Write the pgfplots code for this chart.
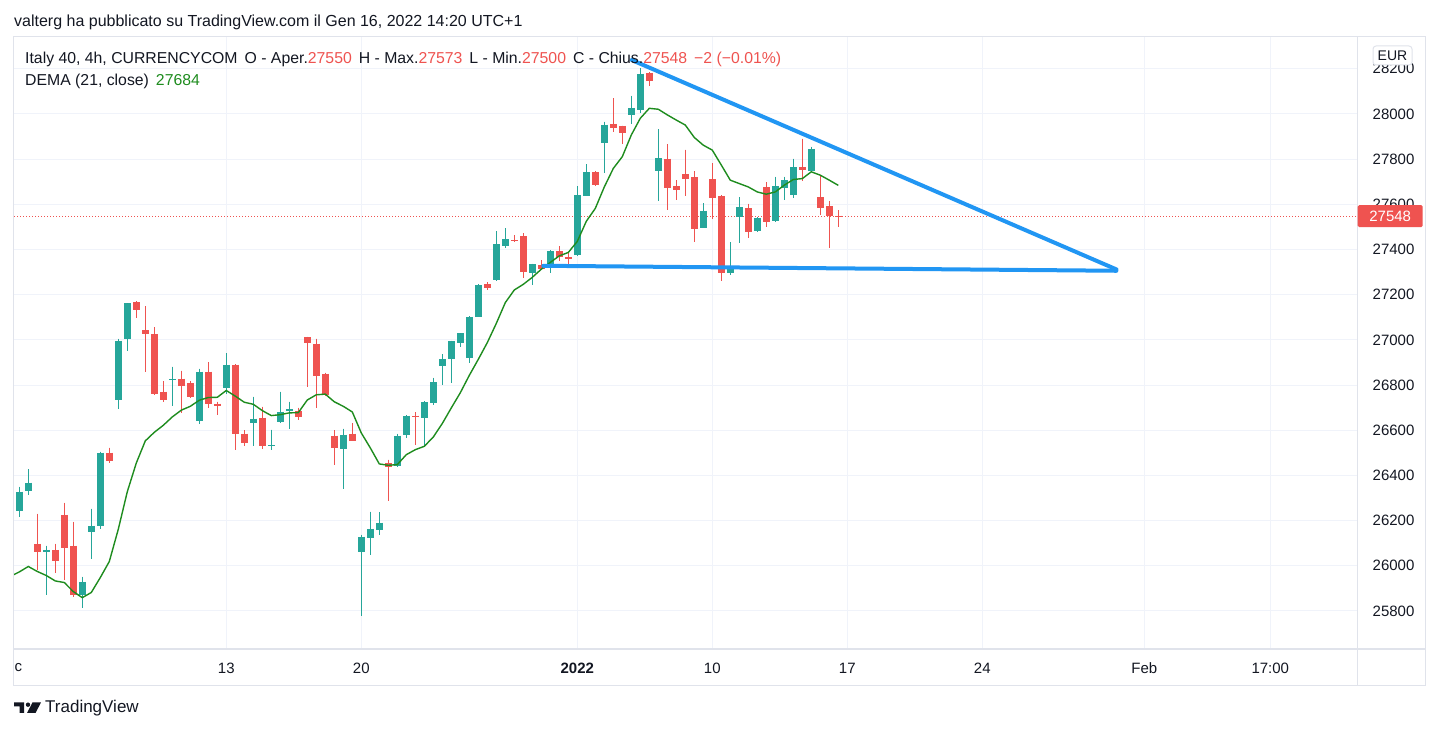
\documentclass[border=0pt]{standalone}
\usepackage{fontspec}
\setmainfont{Liberation Sans}
\usepackage{pgfplots}
\usepackage{pgfplotstable}
\pgfplotsset{compat=1.18}
\definecolor{tvgreen}{HTML}{26A69A}
\definecolor{tvred}{HTML}{EF5350}
\definecolor{demagreen}{HTML}{1E8C1E}
\definecolor{tvblue}{HTML}{2196F3}
\definecolor{gridc}{HTML}{F0F3FA}
\definecolor{borderc}{HTML}{E0E3EB}
\definecolor{textc}{HTML}{131722}

\pgfplotstableread{
i o h l c
0 26241 26349 26214 26328
1 26329 26428 26312 26368
3 26059 26089 25873 26071
7 25873 25951 25815 25929
8 26148 26253 26032 26177
9 26177 26505 26165 26501
11 26733 27005 26696 26997
12 27002 27162 26950 27162
17 26822 26882 26709 26826
20 26640 26873 26627 26860
23 26786 26940 26760 26891
26 26631 26749 26529 26652
28 26530 26603 26511 26534
29 26635 26771 26631 26683
30 26686 26727 26604 26692
36 26516 26607 26338 26581
38 26060 26137 25776 26129
39 26122 26240 26049 26165
40 26157 26236 26138 26191
42 26440 26584 26436 26576
43 26578 26667 26565 26665
45 26653 26729 26524 26724
46 26720 26832 26711 26812
47 26884 26936 26800 26914
48 26915 26996 26809 26993
49 26986 27030 26968 27029
50 26918 27104 26897 27102
51 27102 27246 27100 27242
53 27266 27482 27261 27424
54 27417 27495 27408 27446
57 27297 27337 27242 27335
59 27334 27397 27297 27393
62 27376 27680 27370 27640
63 27638 27778 27636 27743
65 27873 27966 27740 27953
68 27996 28080 27956 28027
69 28018 28203 28003 28179
71 27748 27933 27615 27805
76 27496 27605 27494 27572
79 27296 27432 27288 27321
80 27546 27632 27429 27587
82 27481 27542 27476 27540
84 27525 27722 27523 27680
85 27672 27722 27621 27707
86 27642 27802 27629 27765
88 27748 27854 27746 27846
}\greens

\pgfplotstableread{
i o h l c
2 26097 26230 25982 26059
4 26071 26097 25970 26023
5 26226 26279 25938 26081
6 26089 26195 25861 25873
10 26501 26523 26454 26462
13 27166 27170 27095 27132
14 27042 27148 26860 27024
15 27024 27055 26754 26762
16 26771 26816 26727 26736
18 26829 26864 26675 26798
19 26807 26816 26745 26749
21 26860 26900 26697 26715
22 26718 26727 26666 26706
24 26891 26893 26511 26582
25 26585 26599 26529 26542
27 26656 26705 26516 26529
31 26687 26700 26644 26658
32 27011 27013 26791 26986
33 26984 27006 26697 26842
34 26851 26855 26752 26755
35 26576 26599 26445 26520
37 26585 26630 26551 26551
41 26456 26470 26285 26436
44 26665 26680 26536 26659
52 27246 27255 27221 27230
55 27442 27464 27434 27437
56 27459 27473 27275 27301
58 27331 27353 27310 27314
60 27393 27415 27350 27368
61 27365 27384 27334 27359
64 27743 27746 27683 27686
66 27956 28069 27919 27939
67 27947 27948 27867 27917
70 28182 28184 28126 28148
72 27802 27867 27575 27673
73 27680 27707 27618 27664
74 27734 27842 27636 27713
75 27720 27746 27433 27490
77 27711 27781 27537 27629
78 27638 27640 27260 27296
81 27583 27602 27451 27478
83 27676 27698 27500 27522
87 27765 27891 27704 27753
89 27632 27732 27553 27584
90 27592 27614 27407 27549
91 27550 27573 27500 27548
}\reds

\pgfplotsset{
  candle/.style={only marks, mark=*, mark size=0pt, mark options={draw=none, fill=none}, forget plot,
    error bars/.cd, y dir=minus, y explicit, error mark=none},
}

\begin{document}
\begin{tikzpicture}[x=1pt,y=1pt]
\path[use as bounding box] (0,0) rectangle (1441,733);
\fill[white] (0,0) rectangle (1441,733);
\begin{axis}[
  at={(14pt,84pt)}, anchor=south west,
  scale only axis, width=1343.5pt, height=612pt,
  xmin=-0.589, xmax=148.69, ymin=25631.8, ymax=28340.8,
  axis line style={draw=none},
  xtick={23,38,62,77,92,107,125,139},
  xticklabels={13,20,\textbf{2022},10,17,24,Feb,17:00},
  ytick={25800,26000,...,28200},
  scaled y ticks=false,
  yticklabel pos=right,
  grid=major, major grid style={color=gridc, line width=1pt},
  major tick length=0pt,
  ticklabel style={font=\fontsize{15}{15}\selectfont, text=textc},
  xticklabel style={anchor=center, yshift=-19pt},
  yticklabel style={anchor=west, inner sep=0pt, xshift=15pt},
  /pgf/number format/fixed,
  /pgf/number format/precision=0,
  /pgf/number format/1000 sep={},
  /pgf/number format/assume math mode=true,
]
% last price line
\addplot[tvred, line width=1pt, dash pattern=on 1pt off 2pt, forget plot] coordinates {(-0.589,27548) (148.69,27548)};
% wicks
\addplot[candle, error bar style={line width=1.2pt, tvgreen}]
  table[x=i, y=h, y error minus expr={\thisrow{h}-\thisrow{l}}] {\greens};
\addplot[candle, error bar style={line width=1.2pt, tvred}]
  table[x=i, y=h, y error minus expr={\thisrow{h}-\thisrow{l}}] {\reds};
% bodies
\addplot[candle, error bar style={line width=7pt, tvgreen}]
  table[x=i, y=c, y error minus expr={max(\thisrow{c}-\thisrow{o},5)}] {\greens};
\addplot[candle, error bar style={line width=7pt, tvred}]
  table[x=i, y=o, y error minus expr={max(\thisrow{o}-\thisrow{c},5)}] {\reds};
% DEMA (21, close)
\addplot[demagreen, line width=1.4pt, forget plot] coordinates {
(-1,25953) (0,25973) (1,25997) (2,25975) (3,25957) (4,25933) (5,25926) (6,25886) (7,25859) (8,25882) (9,25948)
(10,26019) (11,26162) (12,26328) (13,26455) (14,26553) (15,26591) (16,26622) (17,26659) (18,26689) (19,26706)
(20,26733) (21,26745) (22,26746) (23,26776) (24,26751) (25,26724) (26,26715) (27,26687) (28,26665) (29,26669)
(30,26677) (31,26678) (32,26734) (33,26757) (34,26760) (35,26726) (36,26706) (37,26681) (38,26588) (39,26522)
(40,26451) (41,26445) (42,26448) (43,26492) (44,26514) (45,26529) (46,26570) (47,26630) (48,26699) (49,26766)
(50,26843) (51,26914) (52,26988) (53,27073) (54,27165) (55,27221) (56,27246) (57,27277) (58,27313) (59,27343)
(60,27372) (61,27387) (62,27436) (63,27525) (64,27582) (65,27677) (66,27759) (67,27811) (68,27907) (69,27981)
(70,28025) (71,28021) (72,27996) (73,27973) (74,27951) (75,27896) (76,27862) (77,27840) (78,27774) (79,27707)
(80,27692) (81,27677) (82,27655) (83,27645) (84,27655) (85,27685) (86,27710) (87,27714) (88,27744) (89,27729)
(90,27707) (91,27684)};
% trend lines
\addplot[tvblue, line width=4pt, line cap=round, forget plot] coordinates {(68.04,28239) (121.9,27312)};
\addplot[tvblue, line width=4pt, line cap=round, forget plot] coordinates {(58.22,27328) (121.9,27306)};
\coordinate (plabel) at (axis cs:148.69,27548);
\end{axis}
% frame
\draw[borderc, line width=1.5pt] (13.5,47.5) rectangle (1425.5,696.5);
\draw[borderc, line width=1.2pt] (1357.5,47.5) -- (1357.5,696.5);
\draw[borderc, line width=1.2pt] (13.5,84) -- (1425.5,84);
% price label
\node[fill=tvred, text=white, anchor=west, minimum width=65pt, minimum height=22pt, inner sep=0pt, rounded corners=1.5pt, font=\fontsize{15}{15}\selectfont] at (plabel) {27548};
% EUR box
\draw[borderc, fill=white, rounded corners=3pt, line width=1pt] (1373,668) rectangle (1412,687);
\node[text=textc, font=\fontsize{14}{14}\selectfont] at (1392.5,677.5) {EUR};
% Dec fragment
\node[anchor=west, inner sep=0pt, text=textc, font=\fontsize{15}{15}\selectfont] at (14.5,65) {c};
% texts
\node[anchor=west, inner sep=0pt, text=textc, font=\fontsize{16}{18}\selectfont] at (14,711) {valterg ha pubblicato su TradingView.com il Gen 16, 2022 14:20 UTC+1};
\node[anchor=west, inner sep=0pt, text=textc, font=\fontsize{15.8}{18}\selectfont] at (25,674) {Italy 40, 4h, CURRENCYCOM\hspace{7pt}O - Aper.\textcolor{tvred}{27550}\hspace{7pt}H - Max.\textcolor{tvred}{27573}\hspace{7pt}L - Min.\textcolor{tvred}{27500}\hspace{7pt}C - Chius.\textcolor{tvred}{27548}\hspace{7pt}\textcolor{tvred}{−2 (−0.01\%)}};
\node[anchor=west, inner sep=0pt, text=textc, font=\fontsize{15.8}{18}\selectfont] at (25,651.5) {DEMA (21, close)\hspace{7pt}\textcolor{demagreen}{27684}};
% logo
\fill[textc] (14,30.5) -- (24,30.5) -- (24,20) -- (19.5,20) -- (19.5,26.5) -- (14,26.5) -- cycle;
\fill[textc] (28,28.3) circle (2.2);
\fill[textc] (32.5,30.5) -- (41,30.5) -- (35.5,20) -- (27,20) -- cycle;
\node[anchor=west, inner sep=0pt, text=textc, font=\fontsize{17}{17}\selectfont] at (45,25) {TradingView};
\end{tikzpicture}
\end{document}
